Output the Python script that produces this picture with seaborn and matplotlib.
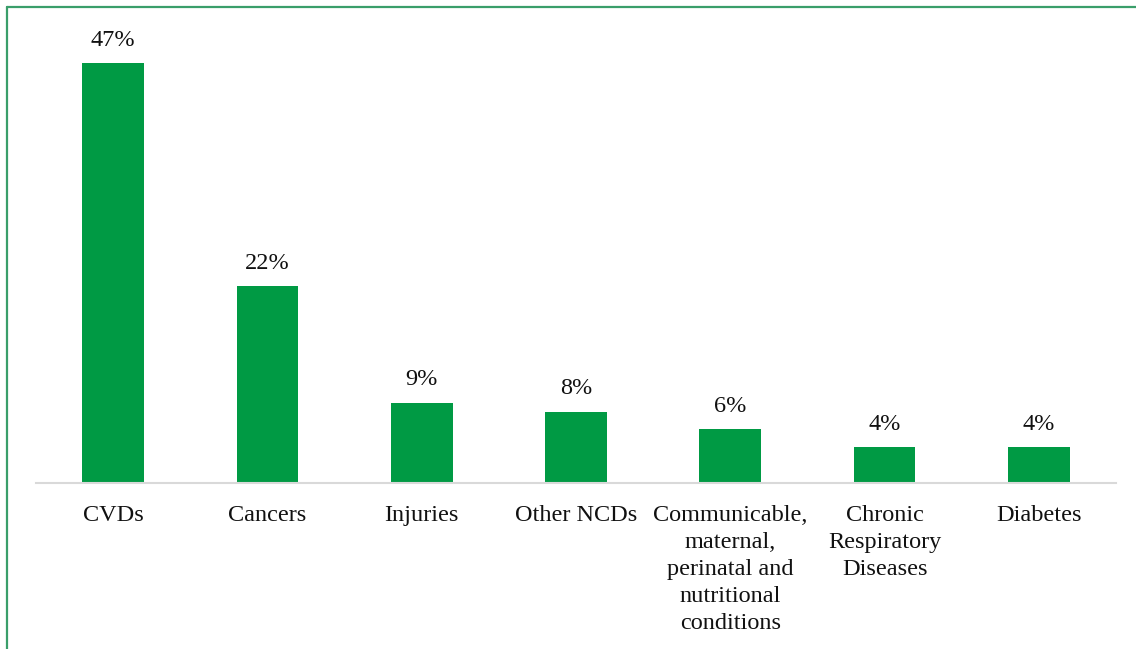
import matplotlib
matplotlib.use("Agg")
import matplotlib.pyplot as plt
import seaborn as sns
import pandas as pd
from matplotlib.lines import Line2D

categories = ["CVDs", "Cancers", "Injuries", "Other NCDs",
              "Communicable,\nmaternal,\nperinatal and\nnutritional\nconditions",
              "Chronic\nRespiratory\nDiseases", "Diabetes"]
values = [47, 22, 9, 8, 6, 4, 4]
value_labels = ["47%", "22%", "9%", "8%", "6%", "4%", "4%"]

df = pd.DataFrame({"cat": categories, "val": values})

sns.set_theme(style="white")
plt.rcParams["font.family"] = ["Liberation Serif", "DejaVu Serif"]

W, H = 1136, 649
fig = plt.figure(figsize=(W / 100, H / 100), dpi=100)
ax = fig.add_axes([36 / W, 1 - 483 / H, (1116 - 36) / W, (483 - 20) / H])

sns.barplot(data=df, x="cat", y="val", color="#009A44", width=0.4, ax=ax,
            saturation=1, linewidth=0)

ax.set_xlim(-0.5, len(categories) - 0.5)
ax.set_ylim(0, (483 - 20) / (420 / 47))
for i, (v, lab) in enumerate(zip(values, value_labels)):
    ax.annotate(lab, (i, v), xytext=(0, 9), textcoords="offset points",
                ha="center", va="bottom", fontsize=17.5, color="#111111")

ax.set_xlabel("")
ax.set_ylabel("")
ax.set_yticks([])
ax.tick_params(axis="x", length=0, pad=16, labelsize=17.5, labelcolor="#111111")
for lab in ax.get_xticklabels():
    lab.set_linespacing(1.37)
for s in ["top", "right", "left"]:
    ax.spines[s].set_visible(False)
ax.spines["bottom"].set_color("#D9D9D9")
ax.spines["bottom"].set_linewidth(1.5)

border = "#3A9E6A"
fig.add_artist(Line2D([7 / W, 7 / W], [0, 1 - 7 / H], transform=fig.transFigure,
                      color=border, linewidth=1.6))
fig.add_artist(Line2D([7 / W, 1], [1 - 7 / H, 1 - 7 / H], transform=fig.transFigure,
                      color=border, linewidth=1.6))

fig.savefig("out.png", dpi=100, facecolor="white")
